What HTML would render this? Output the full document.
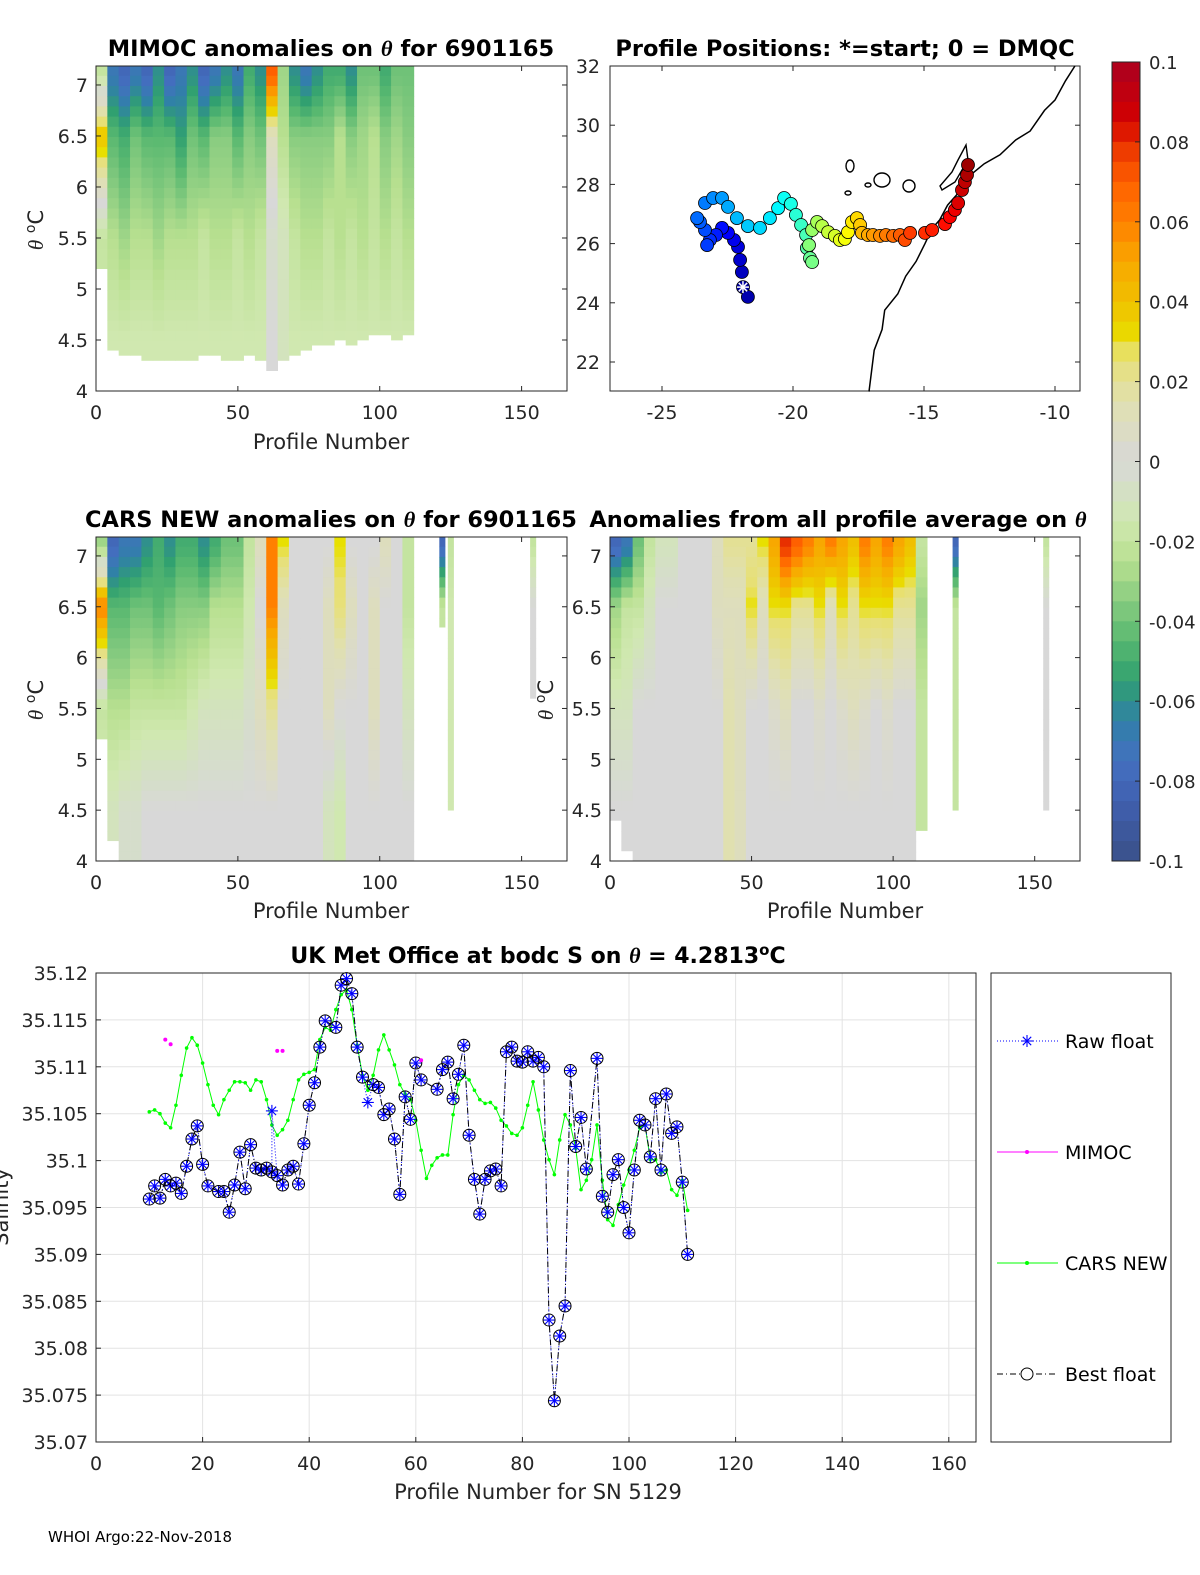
<!DOCTYPE html>
<html><head><meta charset="utf-8"><style>
html,body{margin:0;padding:0;background:#fff;width:1200px;height:1575px;overflow:hidden}
svg{display:block;font-family:"DejaVu Sans","Liberation Sans",sans-serif}
</style></head><body>
<svg id="fig" width="1200" height="1575" viewBox="0 0 1200 1575" xmlns="http://www.w3.org/2000/svg">
<g id="g"></g>
</svg>
<script>
// ---------- DATA ----------
const binStarts=[0,4,8,12,16,20,24,28,32,36,40,44,48,52,56,60,64,68,72,76,80,84,88,92,96,100,104,108];
const mimTop=[-0.02,-0.07,-0.08,-0.07,-0.08,-0.06,-0.08,-0.07,-0.06,-0.08,-0.07,-0.06,-0.07,-0.05,-0.06,0.07,-0.03,-0.06,-0.07,-0.06,-0.05,-0.05,-0.06,-0.04,-0.04,-0.05,-0.04,-0.04];
const mimUpper=[0.04,-0.045,-0.05,-0.04,-0.045,-0.045,-0.045,-0.055,-0.04,-0.045,-0.035,-0.035,-0.045,-0.035,-0.04,0.01,-0.025,-0.035,-0.035,-0.035,-0.035,-0.025,-0.035,-0.03,-0.025,-0.035,-0.03,-0.035];
const mimMid=[-0.02,-0.025,-0.03,-0.025,-0.025,-0.03,-0.025,-0.025,-0.025,-0.02,-0.025,-0.025,-0.02,-0.025,-0.02,-0.005,-0.01,-0.02,-0.025,-0.025,-0.02,-0.025,-0.02,-0.025,-0.02,-0.025,-0.02,-0.025];
const mimLow=[-0.015,-0.015,-0.015,-0.015,-0.015,-0.015,-0.015,-0.015,-0.015,-0.015,-0.015,-0.015,-0.015,-0.015,-0.015,0,-0.01,-0.015,-0.015,-0.015,-0.015,-0.015,-0.015,-0.015,-0.015,-0.015,-0.015,-0.015];
const mimBottom=[5.2,4.4,4.35,4.35,4.3,4.3,4.3,4.3,4.3,4.35,4.35,4.3,4.3,4.35,4.3,4.2,4.3,4.35,4.4,4.45,4.45,4.5,4.45,4.5,4.55,4.55,4.5,4.55];

const carTop=[-0.03,-0.08,-0.07,-0.07,-0.06,-0.05,-0.06,-0.05,-0.05,-0.06,-0.05,-0.04,-0.04,-0.02,0.01,0.06,0.03,0.0,0.0,0.0,0.0,0.03,0.0,0.0,0.0,0.01,0.0,-0.02];
const carUpper=[0.06,-0.045,-0.045,-0.04,-0.04,-0.045,-0.04,-0.035,-0.035,-0.035,-0.025,-0.025,-0.025,-0.015,0.0,0.06,0.01,0.0,0.0,0.0,0.01,0.025,0.01,0.0,0.01,0.0,0.0,-0.02];
const carMid=[-0.02,-0.025,-0.025,-0.02,-0.02,-0.02,-0.02,-0.02,-0.015,-0.01,-0.01,-0.01,-0.01,-0.005,0.01,0.02,0.0,0,0,0,0.01,0.0,0.0,0,0.01,0,0,-0.01];
const carLow=[-0.01,-0.01,-0.005,-0.005,0,0,0,0,0,0,0,0,0,0,0,0,0,0,0,0,-0.01,-0.015,0,0,0,0,0,0];
const carBottom=[5.2,4.2,4.0,4.0,4.0,4.0,4.0,4.0,4.0,4.0,4.0,4.0,4.0,4.0,4.0,4.0,4.0,4.0,4.0,4.0,4.0,4.0,4.0,4.0,4.0,4.0,4.0,4.0];
const carExtraStart=[121,124,153];
const carExtraTop=[-0.08,-0.02,-0.02];
const carExtraLow=[-0.02,-0.015,0];
const carExtraBottom=[6.3,4.5,5.6];

const avgTop=[-0.08,-0.07,-0.04,-0.02,-0.01,-0.01,0,0,0,0.01,0.02,0.02,0.02,0.03,0.05,0.08,0.07,0.06,0.05,0.06,0.05,0.04,0.06,0.05,0.06,0.05,0.04,-0.02];
const avgUpper=[-0.03,-0.02,-0.02,-0.01,0,0,0,0,0,0.01,0.01,0.01,0.03,0.01,0.03,0.03,0.02,0.02,0.03,0.01,0.03,0.02,0.03,0.03,0.03,0.02,0.02,-0.03];
const avgMid=[-0.01,-0.01,0,0,0,0,0,0,0,0,0.015,0.01,0,0,0.005,0.01,0,0,0.005,0,0.005,0.01,0.005,0,0.005,0,0,-0.02];
const avgLow=[0,0,0,0,0,0,0,0,0,0,0.015,0.01,0,0,0,0,0,0,0,0,0,0,0,0,0,0,0,-0.02];
const avgBottom=[4.4,4.1,4.0,4.0,4.0,4.0,4.0,4.0,4.0,4.0,4.0,4.0,4.0,4.0,4.0,4.0,4.0,4.0,4.0,4.0,4.0,4.0,4.0,4.0,4.0,4.0,4.0,4.3];
const avgExtraStart=[121,153];
const avgExtraTop=[-0.08,-0.02];
const avgExtraLow=[-0.02,0];
const avgExtraBottom=[4.5,4.5];

const trackLon=[-21.91,-21.72,-21.95,-22.02,-22.10,-22.25,-22.48,-22.71,-22.94,-23.17,-23.28,-23.36,-23.55,-23.66,-23.36,-23.05,-22.71,-22.48,-22.14,-21.72,-21.26,-20.88,-20.57,-20.34,-20.08,-19.89,-19.69,-19.50,-19.47,-19.35,-19.27,-19.39,-19.27,-19.08,-18.89,-18.66,-18.40,-18.21,-18.02,-17.90,-17.75,-17.56,-17.44,-17.37,-17.14,-16.95,-16.68,-16.45,-16.18,-15.92,-15.73,-15.53,-14.96,-14.69,-14.20,-14.01,-13.82,-13.70,-13.55,-13.44,-13.36,-13.32];
const trackLat=[24.53,24.20,25.04,25.45,25.89,26.12,26.36,26.53,26.29,26.12,25.95,26.46,26.73,26.86,27.37,27.54,27.54,27.24,26.86,26.59,26.53,26.86,27.20,27.54,27.34,26.97,26.63,26.29,25.85,25.51,25.38,25.95,26.46,26.73,26.59,26.39,26.26,26.12,26.16,26.39,26.73,26.86,26.63,26.36,26.29,26.29,26.26,26.29,26.26,26.29,26.12,26.36,26.36,26.46,26.66,26.90,27.14,27.37,27.81,28.08,28.32,28.66];
const coastLon=[-9.24,-9.6,-10.0,-10.4,-10.95,-11.5,-12.1,-12.7,-13.25,-13.5,-13.8,-14.1,-14.4,-14.7,-14.96,-15.3,-15.7,-16.0,-16.5,-16.6,-16.9,-17.0,-17.1];
const coastLat=[32,31.5,30.85,30.5,29.8,29.5,29.0,28.7,28.3,27.9,27.6,27.3,26.8,26.5,26.0,25.4,24.9,24.3,23.75,23.1,22.4,21.7,21.0];

const profX=[10,11,12,13,14,15,16,17,18,19,20,21,23,24,25,26,27,28,29,30,31,32,33,34,35,36,37,38,39,40,41,42,43,45,46,47,48,49,50,52,53,54,55,56,57,58,59,60,61,64,65,66,67,68,69,70,71,72,73,74,75,76,77,78,79,80,81,82,83,84,85,86,87,88,89,90,91,92,94,95,96,97,98,99,100,101,102,103,104,105,106,107,108,109,110,111];
const bestS=[35.0959,35.0973,35.0960,35.0980,35.0973,35.0976,35.0965,35.0994,35.1023,35.1037,35.0996,35.0973,35.0967,35.0967,35.0945,35.0974,35.1009,35.0970,35.1017,35.0992,35.0990,35.0992,35.0988,35.0984,35.0974,35.0990,35.0994,35.0975,35.1018,35.1059,35.1083,35.1121,35.1149,35.1142,35.1187,35.1194,35.1178,35.1121,35.1089,35.1081,35.1078,35.1049,35.1055,35.1023,35.0964,35.1068,35.1044,35.1104,35.1086,35.1076,35.1097,35.1105,35.1066,35.1092,35.1123,35.1027,35.0980,35.0943,35.0980,35.0989,35.0991,35.0973,35.1116,35.1121,35.1106,35.1105,35.1116,35.1106,35.1110,35.1100,35.0830,35.0744,35.0813,35.0845,35.1096,35.1015,35.1046,35.0991,35.1109,35.0962,35.0945,35.0985,35.1001,35.0950,35.0923,35.0990,35.1043,35.1038,35.1004,35.1066,35.0990,35.1071,35.1029,35.1036,35.0977,35.0900];
const rawX=[33,51];
const rawS=[35.1053,35.1062];
const mimocX=[13,14,34,35,61];
const mimocS=[35.1129,35.1124,35.1117,35.1117,35.1107];
const carsStart=10;
const carsS=[35.1052,35.1054,35.1050,35.1040,35.1035,35.1059,35.1091,35.1120,35.1131,35.1123,35.1104,35.1081,35.1059,35.1049,35.1065,35.1075,35.1084,35.1084,35.1083,35.1075,35.1086,35.1084,35.1065,35.1038,35.1027,35.1033,35.1043,35.1065,35.1086,35.1092,35.1094,35.1097,35.1129,35.1142,35.1139,35.1161,35.1177,35.1182,35.1161,35.1123,35.1091,35.1075,35.1091,35.1118,35.1134,35.1118,35.1102,35.1081,35.1071,35.1065,35.1043,35.1011,35.0981,35.0995,35.1003,35.1006,35.1006,35.1049,35.1081,35.1091,35.1086,35.1075,35.1065,35.1061,35.1062,35.1056,35.1043,35.1037,35.1029,35.1027,35.1035,35.1059,35.1084,35.1054,35.1022,35.1001,35.0985,35.1022,35.1049,35.1038,35.1013,35.0969,35.0979,35.1001,35.1038,35.0979,35.0937,35.0931,35.0953,35.0974,35.0990,35.1011,35.1035,35.1038,35.1001,35.1001,35.0987,35.0990,35.0969,35.0963,35.0979,35.0947];
const thetaTicks=[4,4.5,5,5.5,6,6.5,7];
const profTicks=[0,50,100,150];
const latTicks=[22,24,26,28,30,32];
const lonTicks=[-25,-20,-15,-10];
const cbTicks=[0.1,0.08,0.06,0.04,0.02,0,-0.02,-0.04,-0.06,-0.08,-0.1];
const bxTicks=[0,20,40,60,80,100,120,140,160];
const byTicks=[35.07,35.075,35.08,35.085,35.09,35.095,35.1,35.105,35.11,35.115,35.12];

// ---------- helpers ----------
const NS="http://www.w3.org/2000/svg";
const root=document.getElementById('g');
function mk(tag,attrs,parent,text){const e=document.createElementNS(NS,tag);for(const k in attrs)e.setAttribute(k,attrs[k]);if(text!==undefined)e.textContent=text;(parent||root).appendChild(e);return e;}
const cmV=[-0.1,-0.085,-0.075,-0.065,-0.055,-0.045,-0.035,-0.025,-0.015,0,0.015,0.027,0.03,0.04,0.05,0.06,0.07,0.08,0.085,0.1];
const cmC=[[58,80,136],[64,96,176],[68,112,192],[48,128,168],[48,160,112],[88,184,112],[136,204,128],[184,224,144],[208,232,176],[216,216,216],[224,224,176],[232,224,112],[232,224,0],[240,192,0],[248,168,0],[255,128,0],[255,96,0],[232,48,0],[212,0,0],[170,0,32]];
function cmap(v){v=Math.max(-0.1,Math.min(0.1,v));for(let i=0;i<cmV.length-1;i++){if(v<=cmV[i+1]){const t=(v-cmV[i])/(cmV[i+1]-cmV[i]);const a=cmC[i],b=cmC[i+1];return 'rgb('+[0,1,2].map(j=>Math.round(a[j]+t*(b[j]-a[j]))).join(',')+')';}}return 'rgb(170,0,32)';}
function jet(t){const r=Math.min(1,Math.max(0,1.5-Math.abs(4*t-3))),g=Math.min(1,Math.max(0,1.5-Math.abs(4*t-2))),b=Math.min(1,Math.max(0,1.5-Math.abs(4*t-1)));return 'rgb('+[r,g,b].map(c=>Math.round(c*255)).join(',')+')';}

function heatPanel(name,X0,Y0,W,H,starts,width,tops,ups,mids,lows,bots){
  const xs=p=>X0+p*W/166, ys=t=>Y0+H-(t-4)*H/3.186;
  const g=mk('g',{},root);
  
  
  for(let i=0;i<starts.length;i++){
    const lv=[[7.19,tops[i]],[7.1,tops[i]],[6.5,ups[i]],[5.5,mids[i]],[4.5,lows[i]],[4.0,lows[i]]];
    for(let th=7.19;th>bots[i]+0.001;th-=0.1){
      const tc=th-0.05;let v=lows[i];
      for(let k=0;k<lv.length-1;k++){if(tc<=lv[k][0]&&tc>=lv[k+1][0]){const t=(lv[k][0]-tc)/(lv[k][0]-lv[k+1][0]);v=lv[k][1]+t*(lv[k+1][1]-lv[k][1]);break;}}
      const yb=Math.max(th-0.1,bots[i]);
      const r=mk('rect',{x:xs(starts[i]).toFixed(2),y:ys(th).toFixed(2),width:(xs(starts[i]+width)-xs(starts[i])+0.4).toFixed(2),height:(ys(yb)-ys(th)+0.4).toFixed(2),fill:cmap(v)},g);
      
      
    }
  }
}
function axesBox(name,X0,Y0,W,H){const r=mk('rect',{x:X0,y:Y0,width:W,height:H,fill:'none',stroke:'#262626','stroke-width':1});}
function thetaAxis(prefix,X0,Y0,W,H,labX){
  const ys=t=>Y0+H-(t-4)*H/3.186, xs=p=>X0+p*W/166;
  thetaTicks.forEach(t=>{const y=ys(t);mk('line',{x1:X0,x2:X0+5,y1:y,y2:y,stroke:'#262626'});mk('line',{x1:X0+W-5,x2:X0+W,y1:y,y2:y,stroke:'#262626'});
    const tx=mk('text',{x:labX,y:y+7,'font-size':19,'text-anchor':'end',fill:'#262626'},root,String(t));});
  profTicks.forEach(p=>{const x=xs(p);mk('line',{x1:x,x2:x,y1:Y0+H,y2:Y0+H-5,stroke:'#262626'});mk('line',{x1:x,x2:x,y1:Y0,y2:Y0+5,stroke:'#262626'});
    const tx=mk('text',{x:x,y:Y0+H+28,'font-size':19,'text-anchor':'middle',fill:'#262626'},root,String(p));});
}
function txt(name,x,y,s,size,extra){const t=mk('text',Object.assign({x:x,y:y,'font-size':size,fill:'#000'},extra||{}),root,'');t.innerHTML=s;return t;}

// ---------- Panel 1 MIMOC ----------
heatPanel('mimoc',96,66,471,325,binStarts,4,mimTop,mimUpper,mimMid,mimLow,mimBottom);
axesBox('mimoc-axes',96,66,471,325);
thetaAxis('mimoc',96,66,471,325,88);
txt('mimoc-title',331,56,'MIMOC anomalies on <tspan font-family="Liberation Serif" font-style="italic">θ</tspan>  for 6901165',22.5,{'text-anchor':'middle','font-weight':'bold'});
txt('mimoc-x-axis-title',331,449,'Profile Number',21,{'text-anchor':'middle',fill:'#262626'});
txt('mimoc-y-axis-title',43,230,'<tspan font-family="Liberation Serif" font-style="italic">θ</tspan> <tspan dy="-8" font-size="14">o</tspan><tspan dy="8">C</tspan>',21,{'text-anchor':'middle',transform:'rotate(-90 43 230)',fill:'#262626'});

// ---------- Panel 2 map ----------
(function(){
  const X0=610,Y0=66,W=470,H=325;
  const mx=l=>662+(l+25)*26.2, my=l=>66+(32-l)*29.6;
  axesBox('map-axes',X0,Y0,W,H);
  latTicks.forEach(l=>{const y=my(l);mk('line',{x1:X0,x2:X0+5,y1:y,y2:y,stroke:'#262626'});mk('line',{x1:X0+W-5,x2:X0+W,y1:y,y2:y,stroke:'#262626'});
    const t=mk('text',{x:600,y:y+7,'font-size':19,'text-anchor':'end',fill:'#262626'},root,String(l));});
  lonTicks.forEach(l=>{const x=mx(l);mk('line',{x1:x,x2:x,y1:Y0+H,y2:Y0+H-5,stroke:'#262626'});mk('line',{x1:x,x2:x,y1:Y0,y2:Y0+5,stroke:'#262626'});
    const t=mk('text',{x:x,y:Y0+H+28,'font-size':19,'text-anchor':'middle',fill:'#262626'},root,String(l));});
  const coast=mk('polyline',{points:coastLon.map((l,i)=>mx(l).toFixed(1)+','+my(coastLat[i]).toFixed(1)).join(' '),fill:'none',stroke:'#000','stroke-width':1.5});
  
  
  [[850,166,4,6],[848,193,3,2],[882,180,8,7],[909,186,6,6],[868,185,3,2]].forEach(a=>{const e=mk('ellipse',{cx:a[0],cy:a[1],rx:a[2],ry:a[3],fill:'none',stroke:'#000','stroke-width':1.4});});
  const isl=mk('path',{d:'M966 145 L968 160 L962 170 L955 182 L942 190 L940 186 L952 172 L958 160 Z',fill:'none',stroke:'#000','stroke-width':1.4});
  
  
  const n=trackLon.length;
  for(let i=0;i<n;i++){
    const c=mk('circle',{cx:mx(trackLon[i]).toFixed(1),cy:my(trackLat[i]).toFixed(1),r:6.5,fill:jet(0.03+0.94*i/(n-1)),stroke:'#000','stroke-width':0.8});
    
    
  }
  const sx=mx(trackLon[0]),sy=my(trackLat[0]);
  const st=mk('g',{stroke:'#fff','stroke-width':1.5});
  
  
  [[0,6],[6,0],[4.2,4.2],[4.2,-4.2]].forEach(d=>mk('line',{x1:sx-d[0],y1:sy-d[1],x2:sx+d[0],y2:sy+d[1]},st));
  txt('map-title',845,56,'Profile Positions: *=start; 0 = DMQC',22.5,{'text-anchor':'middle','font-weight':'bold'});
})();

// ---------- Colorbar ----------
(function(){
  const X0=1112,Y0=62,W=28,H=799;
  const cy=v=>Y0+(0.1-v)/0.2*H;
  const g=mk('g',{});
  
  
  for(let v=0.1;v>-0.1;v-=0.005){mk('rect',{x:X0,y:cy(v),width:W,height:H*0.005/0.2+0.5,fill:cmap(v-0.0025)},g);}
  mk('rect',{x:X0,y:Y0,width:W,height:H,fill:'none',stroke:'#262626'},g);
  cbTicks.forEach(v=>{const y=cy(v);mk('line',{x1:X0+W-5,x2:X0+W,y1:y,y2:y,stroke:'#262626'});
    const t=mk('text',{x:1149,y:y+7,'font-size':18,fill:'#262626'},root,String(v));});
})();

// ---------- Panel 3 CARS ----------
heatPanel('cars',96,537,471,324,binStarts,4,carTop,carUpper,carMid,carLow,carBottom);
heatPanel('cars-extra',96,537,471,324,carExtraStart,2,carExtraTop,carExtraLow,carExtraLow,carExtraLow,carExtraBottom);
axesBox('cars-axes',96,537,471,324);
thetaAxis('cars',96,537,471,324,88);
txt('cars-title',331,527,'CARS NEW anomalies on <tspan font-family="Liberation Serif" font-style="italic">θ</tspan> for 6901165',22.5,{'text-anchor':'middle','font-weight':'bold'});
txt('cars-x-axis-title',331,918,'Profile Number',21,{'text-anchor':'middle',fill:'#262626'});
txt('cars-y-axis-title',43,700,'<tspan font-family="Liberation Serif" font-style="italic">θ</tspan> <tspan dy="-8" font-size="14">o</tspan><tspan dy="8">C</tspan>',21,{'text-anchor':'middle',transform:'rotate(-90 43 700)',fill:'#262626'});

// ---------- Panel 4 avg ----------
heatPanel('avg',610,537,470,324,binStarts,4,avgTop,avgUpper,avgMid,avgLow,avgBottom);
heatPanel('avg-extra',610,537,470,324,avgExtraStart,2,avgExtraTop,avgExtraLow,avgExtraLow,avgExtraLow,avgExtraBottom);
axesBox('avg-axes',610,537,470,324);
thetaAxis('avg',610,537,470,324,602);
txt('avg-title',838,527,'Anomalies from all profile average on <tspan font-family="Liberation Serif" font-style="italic">θ</tspan>',22.5,{'text-anchor':'middle','font-weight':'bold'});
txt('avg-x-axis-title',845,918,'Profile Number',21,{'text-anchor':'middle',fill:'#262626'});
txt('avg-y-axis-title',553,700,'<tspan font-family="Liberation Serif" font-style="italic">θ</tspan> <tspan dy="-8" font-size="14">o</tspan><tspan dy="8">C</tspan>',21,{'text-anchor':'middle',transform:'rotate(-90 553 700)',fill:'#262626'});

// ---------- Bottom salinity ----------
(function(){
  const X0=96,Y0=973,W=880,H=469;
  const bx=v=>X0+v*5.33, by=v=>Y0+(35.12-v)/0.05*H;
  mk('rect',{x:X0,y:Y0,width:W,height:H,fill:'#fff'});
  bxTicks.forEach(v=>{const x=bx(v);mk('line',{x1:x,x2:x,y1:Y0,y2:Y0+H,stroke:'#e3e3e3'});
    const t=mk('text',{x:x,y:Y0+H+28,'font-size':19,'text-anchor':'middle',fill:'#262626'},root,String(v));});
  byTicks.forEach(v=>{const y=by(v);mk('line',{x1:X0,x2:X0+W,y1:y,y2:y,stroke:'#e3e3e3'});
    const t=mk('text',{x:88,y:y+7,'font-size':19,'text-anchor':'end',fill:'#262626'},root,String(+v.toFixed(3)));});
  axesBox('salinity-axes',X0,Y0,W,H);
  bxTicks.forEach(v=>{const x=bx(v);mk('line',{x1:x,x2:x,y1:Y0+H,y2:Y0+H-5,stroke:'#262626'});});
  byTicks.forEach(v=>{const y=by(v);mk('line',{x1:X0,x2:X0+5,y1:y,y2:y,stroke:'#262626'});});
  const cp=carsS.map((s,i)=>bx(carsStart+i).toFixed(1)+','+by(s).toFixed(1)).join(' ');
  const cl=mk('polyline',{points:cp,fill:'none',stroke:'#00ff00','stroke-width':1});
  
  
  carsS.forEach((s,i)=>{const d=mk('circle',{cx:bx(carsStart+i),cy:by(s),r:1.8,fill:'#00ff00'});});
  const rawAllX=profX.concat(rawX), rawAllS=bestS.concat(rawS);
  const idx=rawAllX.map((x,i)=>i).sort((a,b)=>rawAllX[a]-rawAllX[b]);
  const rl=mk('polyline',{points:idx.map(i=>bx(rawAllX[i]).toFixed(1)+','+by(rawAllS[i]).toFixed(1)).join(' '),fill:'none',stroke:'#0000ff','stroke-width':1,'stroke-dasharray':'1 2'});
  
  
  const bl=mk('polyline',{points:profX.map((x,i)=>bx(x).toFixed(1)+','+by(bestS[i]).toFixed(1)).join(' '),fill:'none',stroke:'#000','stroke-width':1,'stroke-dasharray':'6 3 1 3'});
  
  
  function star(x,y,g){[[0,6],[6,0],[4.2,4.2],[4.2,-4.2]].forEach(d=>mk('line',{x1:x-d[0],y1:y-d[1],x2:x+d[0],y2:y+d[1],stroke:'#0000ff','stroke-width':1.1},g));}
  idx.forEach(i=>{const g=mk('g',{});star(bx(rawAllX[i]),by(rawAllS[i]),g);});
  profX.forEach((x,i)=>{const c=mk('circle',{cx:bx(x),cy:by(bestS[i]),r:6,fill:'none',stroke:'#000','stroke-width':1});});
  mimocX.forEach((x,i)=>{const c=mk('circle',{cx:bx(x),cy:by(mimocS[i]),r:2,fill:'#ff00ff'});});
  txt('salinity-title',538,963,'UK Met Office at bodc S on <tspan font-family="Liberation Serif" font-style="italic">θ</tspan> = 4.2813<tspan dy="-8" font-size="15">o</tspan><tspan dy="8">C</tspan>',22,{'text-anchor':'middle','font-weight':'bold'});
  txt('salinity-x-axis-title',538,1499,'Profile Number for SN 5129',21,{'text-anchor':'middle',fill:'#262626'});
  txt('salinity-y-axis-title',8,1207,'Salinity',21,{'text-anchor':'middle',transform:'rotate(-90 8 1207)',fill:'#262626'});
  const lg=mk('g',{});
  
  
  mk('rect',{x:991,y:973,width:180,height:469,fill:'#fff',stroke:'#262626'},lg);
  const ly=[1041,1152,1263,1374], ln=['Raw float','MIMOC','CARS NEW','Best float'];
  ln.forEach((s,i)=>{const t=mk('text',{x:1065,y:ly[i]+7,'font-size':19,fill:'#000'},lg,s);});
  mk('line',{x1:997,x2:1058,y1:ly[0],y2:ly[0],stroke:'#0000ff','stroke-dasharray':'1 2'},lg);star(1027,ly[0],lg);
  mk('line',{x1:997,x2:1058,y1:ly[1],y2:ly[1],stroke:'#ff00ff'},lg);mk('circle',{cx:1027,cy:ly[1],r:2,fill:'#ff00ff'},lg);
  mk('line',{x1:997,x2:1058,y1:ly[2],y2:ly[2],stroke:'#00ff00'},lg);mk('circle',{cx:1027,cy:ly[2],r:2,fill:'#00ff00'},lg);
  mk('line',{x1:997,x2:1058,y1:ly[3],y2:ly[3],stroke:'#000','stroke-dasharray':'6 3 1 3'},lg);mk('circle',{cx:1027,cy:ly[3],r:6,fill:'#fff',stroke:'#000'},lg);
})();
txt('footer-date',48,1542,'WHOI Argo:22-Nov-2018',15,{fill:'#000'});
</script>
</body></html>
